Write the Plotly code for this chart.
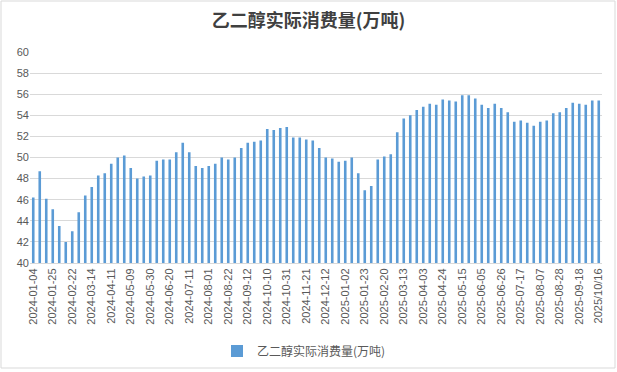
import plotly.graph_objects as go

dates = [
    "2024-01-04", "2024-01-11", "2024-01-18", "2024-01-25", "2024-02-01", "2024-02-08",
    "2024-02-22", "2024-02-29", "2024-03-07", "2024-03-14", "2024-03-21", "2024-03-28",
    "2024-04-11", "2024-04-18", "2024-04-25", "2024-05-09", "2024-05-16", "2024-05-23",
    "2024-05-30", "2024-06-06", "2024-06-13", "2024-06-20", "2024-06-27", "2024-07-04",
    "2024-07-11", "2024-07-18", "2024-07-25", "2024-08-01", "2024-08-08", "2024-08-15",
    "2024-08-22", "2024-08-29", "2024-09-05", "2024-09-12", "2024-09-19", "2024-09-26",
    "2024-10-10", "2024-10-17", "2024-10-24", "2024-10-31", "2024-11-07", "2024-11-14",
    "2024-11-21", "2024-11-28", "2024-12-05", "2024-12-12", "2024-12-19", "2024-12-26",
    "2025-01-02", "2025-01-09", "2025-01-16", "2025-01-23", "2025-02-06", "2025-02-13",
    "2025-02-20", "2025-02-27", "2025-03-06", "2025-03-13", "2025-03-20", "2025-03-27",
    "2025-04-03", "2025-04-10", "2025-04-17", "2025-04-24", "2025-05-01", "2025-05-08",
    "2025-05-15", "2025-05-22", "2025-05-29", "2025-06-05", "2025-06-12", "2025-06-19",
    "2025-06-26", "2025-07-03", "2025-07-10", "2025-07-17", "2025-07-24", "2025-07-31",
    "2025-08-07", "2025-08-14", "2025-08-21", "2025-08-28", "2025-09-04", "2025-09-11",
    "2025-09-18", "2025-09-25", "2025-10-09", "2025/10/16",
]

consumption = [
    46.2, 48.7, 46.1, 45.1, 43.5, 42.0, 43.0, 44.8, 46.4, 47.2, 48.3, 48.5, 49.4, 50.0,
    50.2, 49.0, 48.0, 48.2, 48.3, 49.7, 49.8, 49.8,
    50.5, 51.4, 50.5, 49.2, 49.0, 49.2, 49.4, 50.0, 49.8, 50.0, 50.9, 51.4, 51.5, 51.6,
    52.7, 52.6, 52.8, 52.9, 51.9, 51.9, 51.7, 51.6, 50.9,
    50.0, 49.9, 49.6, 49.7, 50.0, 48.5, 46.9, 47.3, 49.8, 50.1, 50.3, 52.4, 53.7, 54.0,
    54.5, 54.8, 55.1, 55.0, 55.5, 55.4, 55.3, 55.9,
    55.9, 55.6, 55.0, 54.7, 55.1, 54.7, 54.3, 53.4, 53.5, 53.3, 53.0, 53.4, 53.5, 54.2,
    54.3, 54.7, 55.2, 55.1, 55.0, 55.4, 55.4,
]

tick_labels = [
    "2024-01-04", "2024-01-25", "2024-02-22", "2024-03-14", "2024-04-11", "2024-05-09",
    "2024-05-30", "2024-06-20", "2024-07-11", "2024-08-01", "2024-08-22", "2024-09-12",
    "2024-10-10", "2024-10-31", "2024-11-21", "2024-12-12", "2025-01-02", "2025-01-23",
    "2025-02-20", "2025-03-13", "2025-04-03", "2025-04-24", "2025-05-15", "2025-06-05",
    "2025-06-26", "2025-07-17", "2025-08-07", "2025-08-28", "2025-09-18", "2025/10/16",
]

y_ticks = [40, 42, 44, 46, 48, 50, 52, 54, 56, 58, 60]

series_name = "乙二醇实际消费量(万吨)"
title_text = "乙二醇实际消费量(万吨)"

W, H = 617, 372
ML, MR, MT, MB = 30, 15, 52, 109

fig = go.Figure()
fig.add_trace(go.Bar(
    x=dates, y=consumption, name=series_name,
    marker=dict(color="#5b9bd5", line=dict(width=0)),
))

pw = W - ML - MR
ph = H - MT - MB

fig.update_layout(
    width=W, height=H,
    margin=dict(l=ML, r=MR, t=MT, b=MB, autoexpand=False),
    paper_bgcolor="white", plot_bgcolor="white",
    bargap=0.6,
    font=dict(family="Noto Sans CJK SC, Liberation Sans, sans-serif", color="#595959"),
    title=dict(
        text="<b>" + title_text + "</b>",
        x=0.5, xref="container", xanchor="center",
        y=1 - 21 / H, yref="container", yanchor="middle",
        font=dict(size=18, color="#404040", family="Noto Sans CJK SC, sans-serif"),
    ),
    showlegend=True,
    legend=dict(
        orientation="h", x=0.5 - 12 / pw, xanchor="center",
        y=-(351 - (H - MB)) / ph, yanchor="middle",
        font=dict(size=12, color="#595959"),
        bgcolor="rgba(0,0,0,0)",
    ),
    xaxis=dict(
        type="category",
        tickmode="array", tickvals=tick_labels, ticktext=tick_labels,
        tickangle=-90, tickfont=dict(size=11, color="#595959",
                                      family="Liberation Sans, Arial, sans-serif"),
        showgrid=False, showline=True, linecolor="#d9d9d9", linewidth=1,
        ticks="", zeroline=False,
    ),
    yaxis=dict(
        range=[40, 60], tickmode="array", tickvals=y_ticks,
        tickfont=dict(size=11, color="#595959", family="Liberation Sans, Arial, sans-serif"),
        showgrid=True, gridcolor="#d9d9d9", gridwidth=1,
        showline=False, zeroline=False, ticks="",
    ),
    shapes=[dict(
        type="rect", xref="paper", yref="paper",
        x0=-(ML - 1) / pw, x1=1 + (MR - 2) / pw,
        y0=-(MB - 4) / ph, y1=1 + (MT - 1) / ph,
        line=dict(color="#d9d9d9", width=1), fillcolor="rgba(0,0,0,0)",
        layer="below",
    )],
)

fig.write_html(
    "out.html",
    config={"displayModeBar": False},
    post_script="document.body.style.margin='0';document.body.style.overflow='hidden';",
)
